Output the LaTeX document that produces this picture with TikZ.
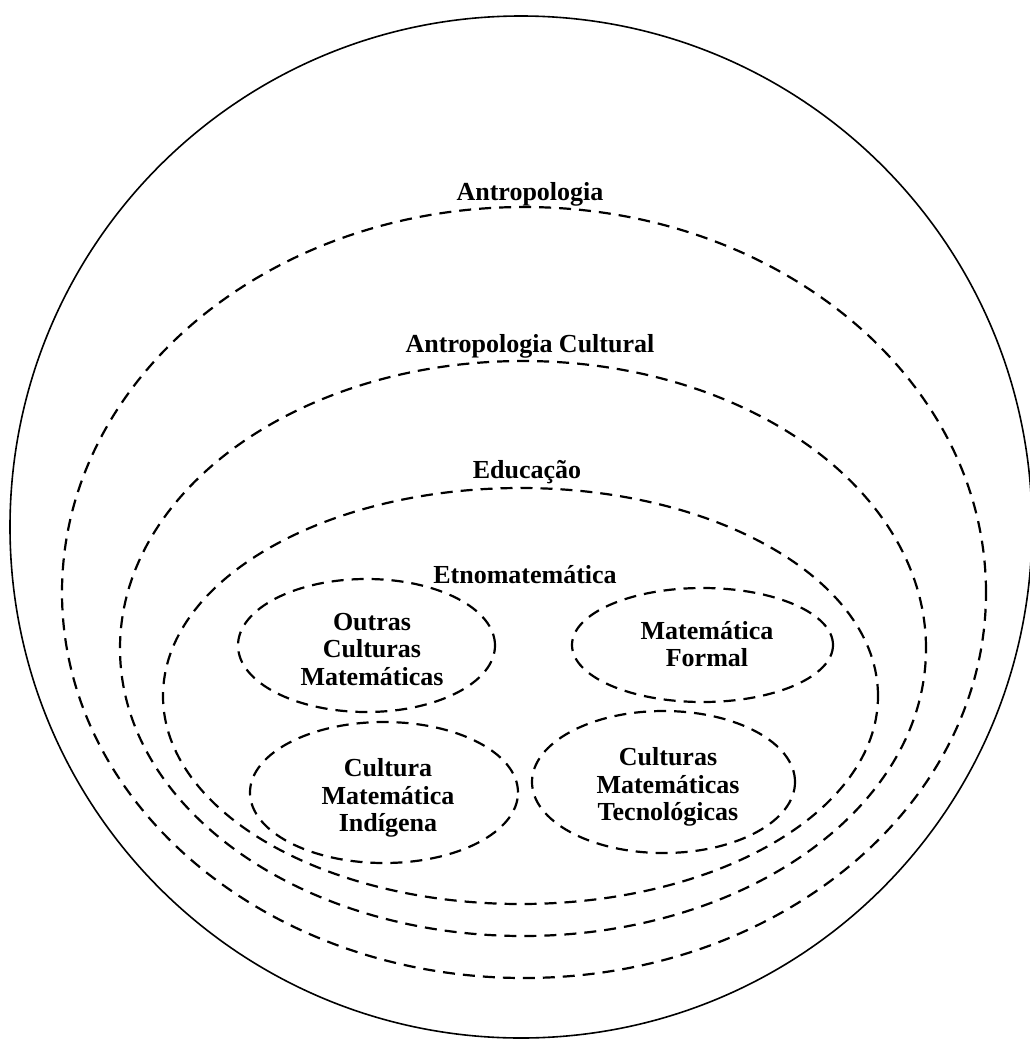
\documentclass[tikz,border=0pt]{standalone}
\usepackage{fontspec}
\setmainfont{Liberation Serif}
\usetikzlibrary{shapes.geometric}
\begin{document}
\begin{tikzpicture}[x=1pt,y=-1pt,
  world/.style={draw, ellipse, inner sep=0pt, line width=1.6pt},
  ring/.style={draw, ellipse, inner sep=0pt, line width=2.2pt,
               dash pattern=on 12pt off 8pt},
  lbl/.style={font=\fontsize{26}{27.5}\selectfont\bfseries,
              align=center, inner sep=0pt}]
\useasboundingbox (0,0) rectangle (1029,1039);

% outer solid boundary
\node[world, minimum width=1022pt, minimum height=1022pt] (mundo) at (521,527) {};

% nested dashed domains
\node[ring, minimum width=924pt, minimum height=771pt] (antro) at (524,592.5) {};
\node[ring, minimum width=806pt, minimum height=575pt] (cult)  at (523,648.5) {};
\node[ring, minimum width=715pt, minimum height=416pt] (edu)   at (520.5,696) {};

% inner groups
\node[ring, minimum width=257pt, minimum height=133pt] (outras) at (366.5,645.5) {};
\node[ring, minimum width=261pt, minimum height=114pt] (formal) at (702.5,645) {};
\node[ring, minimum width=268pt, minimum height=141pt] (indig)  at (384,792.5) {};
\node[ring, minimum width=263pt, minimum height=142pt] (tecno)  at (663.5,782) {};

% domain titles
\node[lbl, anchor=base] (tAntro) at (530,200) {Antropologia};
\node[lbl, anchor=base] (tCult)  at (530,352) {Antropologia Cultural};
\node[lbl, anchor=base] (tEdu)   at (527,478) {Educação};
\node[lbl, anchor=base] (tEtno)  at (525,583) {Etnomatemática};

% group texts
\node[lbl] (tOutras) at (372,649.5) {Outras\\Culturas\\Matemáticas};
\node[lbl] (tFormal) at (707,644)   {Matemática\\Formal};
\node[lbl] (tIndig)  at (388,798)   {Cultura\\Matemática\\Indígena};
\node[lbl] (tTecno)  at (668,787)   {Culturas\\Matemáticas\\Tecnológicas};
\end{tikzpicture}
\end{document}
